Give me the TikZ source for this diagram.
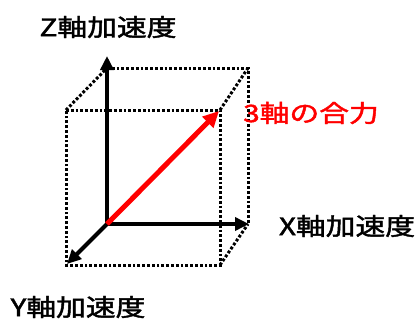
\documentclass[tikz,border=0pt]{standalone}
\usepackage{fontspec}
\usepackage{graphicx}
\newfontfamily\cjk[FakeBold=1.6]{Noto Sans CJK JP}
\usetikzlibrary{arrows.meta}
\tikzset{
  edge/.style={line width=3pt, dash pattern=on 2.8pt off 2pt},
  axis/.style={line width=4pt, -{Triangle[length=14pt,width=13pt]}},
  force/.style={line width=5pt, red, -{Triangle[length=16pt,width=15pt]}},
  lab/.style={font=\cjk\fontsize{24}{24}\selectfont, inner sep=0pt},
}
\begin{document}
\begin{tikzpicture}[x=1pt,y=-1pt]
\useasboundingbox[fill=white] (0,0) rectangle (420,322);
% back face corners
\coordinate (O) at (107,224);
\coordinate (BTL) at (107,68);
\coordinate (BTR) at (248,68);
\coordinate (BBR) at (248,224);
% front face corners
\coordinate (FTL) at (66,110);
\coordinate (FTR) at (220,110);
\coordinate (FBR) at (220,265);
\coordinate (FBL) at (66,265);
% axis tips
\coordinate (Zt) at (107,56);
\coordinate (Xt) at (249,224);
\coordinate (Yt) at (67,264);
\coordinate (Rt) at (219,111);
% dotted cube
\draw[edge] (BTL) -- (BTR) -- (BBR);
\draw[edge] (FTL) -- (FTR) -- (FBR) -- (FBL) -- cycle;
\draw[edge] (FTL) -- (BTL);
\draw[edge] (FTR) -- (BTR);
\draw[edge] (FBR) -- (BBR);
% axes
\draw[axis] (O) -- (Zt);
\draw[axis] (O) -- (Xt);
\draw[axis] (O) -- (Yt);
\draw[force] (O) -- (Rt);
% labels
\node[lab] (zl) at (108,27) {\scalebox{1.24}[1]{Z軸加速度}};
\node[lab] (xl) at (347,226) {\scalebox{1.24}[1]{X軸加速度}};
\node[lab] (yl) at (78,307) {\scalebox{1.24}[1]{Y軸加速度}};
\node[lab, text=red] (rl) at (311,113) {\scalebox{1.24}[1]{3軸の合力}};
\end{tikzpicture}
\end{document}
